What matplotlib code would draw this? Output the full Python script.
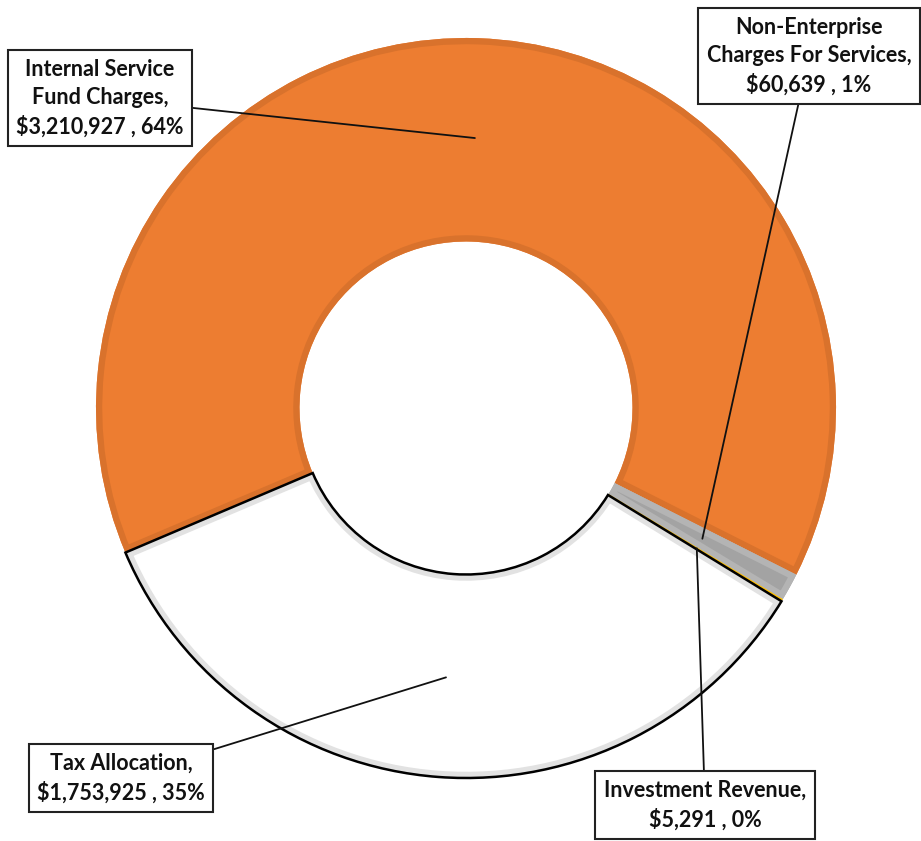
import matplotlib
matplotlib.use('Agg')
import matplotlib.pyplot as plt
import matplotlib.patches as mpatches
import numpy as np

# fuentes de receita
labels = ['Internal Service\nFund Charges', 'Non-Enterprise\nCharges For Services',
          'Investment Revenue', 'Tax Allocation']
values = [3210927, 60639, 5291, 1753925]
colors = ['#ED7D31', '#A3A3A3', '#FFC000', '#FFFFFF']
bands = ['#D9722C', '#B4B4B4', '#FFC000', '#E2E2E2']

# posicoes das caixas (pixels da imagem)
box_pos = [(100, 98), (809, 56), (705, 805), (121, 778)]

W, H = 921, 841
fig = plt.figure(figsize=(W / 100, H / 100), dpi=100)
ax = fig.add_axes([0, 0, 1, 1])

R = 370
cx, cy = 466, H - 408
wedges, _ = ax.pie(values, colors=colors, startangle=203, counterclock=False,
                   radius=R, center=(cx, cy), frame=True,
                   wedgeprops=dict(width=R * 0.55, linewidth=0))
ax.set_xlim(0, W)
ax.set_ylim(0, H)
ax.axis('off')

# borda interna (efeito bisel)
for w, bc in zip(wedges, bands):
    band = mpatches.Wedge(w.center, w.r, w.theta1, w.theta2, width=w.width,
                          fill=False, edgecolor=bc, linewidth=9)
    ax.add_patch(band)
    band.set_clip_path(w)

# contorno preto so na fatia de impostos
t = wedges[3]
ax.add_patch(mpatches.Wedge(t.center, t.r, t.theta1, t.theta2, width=t.width,
                            fill=False, edgecolor='black', linewidth=1.8))

total = sum(values)
for w, name, v, (bx, by) in zip(wedges, labels, values, box_pos):
    mid = np.deg2rad((w.theta1 + w.theta2) / 2)
    px = cx + 0.73 * R * np.cos(mid)
    py = cy + 0.73 * R * np.sin(mid)
    txt = f"{name},\n${v:,} , {round(100 * v / total)}%"
    ax.annotate(txt, xy=(px, py), xytext=(bx, H - by),
                ha='center', va='center', fontsize=15.5, fontweight='bold',
                family='Lato', color='#111111', linespacing=1.4,
                bbox=dict(boxstyle='square,pad=0.4', facecolor='white',
                          edgecolor='#222222', linewidth=1.5),
                arrowprops=dict(arrowstyle='-', color='#111111', lw=1.3,
                                shrinkA=0, shrinkB=0))

plt.savefig('out.png', dpi=100, facecolor='white')
plt.close()
